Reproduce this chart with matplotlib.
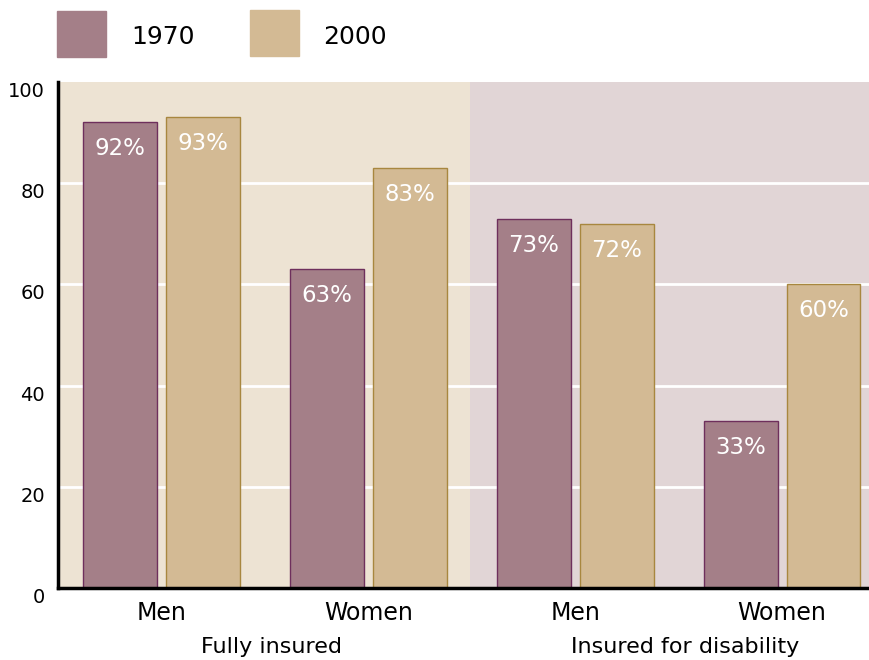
import matplotlib
matplotlib.use('Agg')

import numpy as np
import matplotlib.pyplot as plt
import matplotlib.transforms as mtransforms
from matplotlib.patches import Rectangle

# data
groups = ["Men", "Women", "Men", "Women"]
sections = ["Fully insured", "Insured for disability"]
years = ["1970", "2000"]
vals_1970 = [92, 63, 73, 33]
vals_2000 = [93, 83, 72, 60]
yticks = [0, 20, 40, 60, 80, 100]

col_1970 = "#A47F88"
edge_1970 = "#6E2F5C"
col_2000 = "#D3BA94"
edge_2000 = "#A8873F"
bg_left = "#EDE3D3"
bg_right = "#E1D5D6"

plt.rcParams['font.family'] = ['DejaVu Sans']

fig = plt.figure(figsize=(8.69, 6.6), dpi=100)
ax = fig.add_axes([58 / 869, 1 - 588 / 660, 1 - 58 / 869, (588 - 82) / 660])

x = np.arange(len(groups))
w = 0.357
off = 0.2

ax.set_xlim(-0.5, 3.42)
ax.set_ylim(0, 100)

# two shaded halves
ax.axvspan(-0.5, 1.49, color=bg_left, zorder=0, lw=0)
ax.axvspan(1.49, 3.42, color=bg_right, zorder=0, lw=0)

for g in yticks[1:-1]:
    ax.axhline(g, color="white", lw=2, zorder=1)

b1 = ax.bar(x - off, vals_1970, w, color=col_1970, edgecolor=edge_1970, lw=1, zorder=2)
b2 = ax.bar(x + off, vals_2000, w, color=col_2000, edgecolor=edge_2000, lw=1, zorder=2)

for bars, vals in ((b1, vals_1970), (b2, vals_2000)):
    for b, v in zip(bars, vals):
        ax.annotate(f"{v}%", (b.get_x() + b.get_width() / 2, v),
                    xytext=(0, -19), textcoords="offset points",
                    ha="center", va="center", color="white", fontsize=16.5, zorder=3)

for s in ["top", "right"]:
    ax.spines[s].set_visible(False)
ax.spines["left"].set_linewidth(2.5)
ax.spines["bottom"].set_linewidth(2.5)

# y labels sit a bit below their gridline in the original
ax.set_yticks(yticks)
ax.set_yticklabels([])
ax.tick_params(axis="y", length=0)
ylab_tr = mtransforms.blended_transform_factory(ax.transAxes, ax.transData)
for t in yticks:
    ax.text(-0.016, t, str(t), transform=ylab_tr, ha="right", va="top", fontsize=14)

ax.set_xticks(x)
ax.set_xticklabels(groups, fontsize=17)
ax.tick_params(axis="x", length=0, pad=9)

sec_x = [0.53, 2.53]
for sx, name in zip(sec_x, sections):
    ax.text(sx, -11.6, name, ha="center", va="center", fontsize=16)

# legend drawn as squares in figure coords
fig.patches.append(Rectangle((57 / 869, 1 - 57 / 660), 49 / 869, 46 / 660,
                             transform=fig.transFigure, color=col_1970))
fig.patches.append(Rectangle((250 / 869, 1 - 56 / 660), 49 / 869, 46 / 660,
                             transform=fig.transFigure, color=col_2000))
fig.text(131 / 869, 1 - 37 / 660, years[0], fontsize=18, va="center")
fig.text(323 / 869, 1 - 37 / 660, years[1], fontsize=18, va="center")

fig.savefig("out.png", dpi=100)
